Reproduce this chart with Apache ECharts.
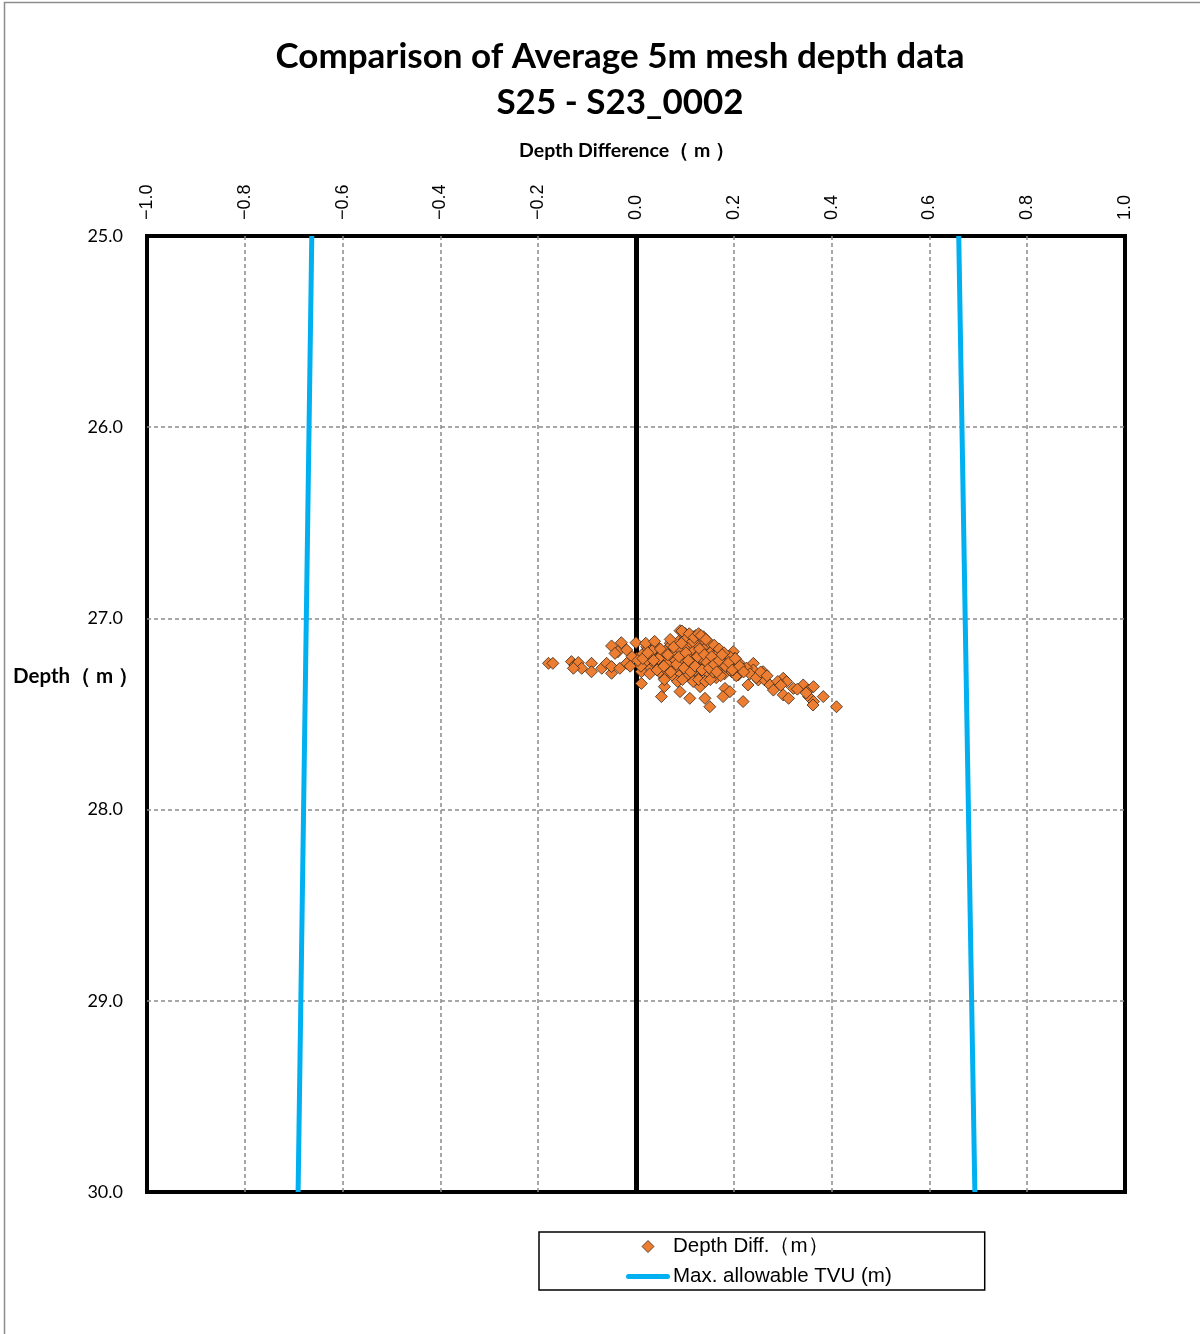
<!DOCTYPE html>
<html>
<head>
<meta charset="utf-8">
<script src="https://cdn.jsdelivr.net/npm/echarts@6/dist/echarts.min.js"></script>
<style>
  html, body { margin: 0; padding: 0; background: #fff; }
  #chart { width: 1200px; height: 1334px; }
</style>
</head>
<body>
<div id="chart"></div>
<script>
// Depth difference (m) between surveys, paired with average depth (m)
const diffX = [
  -0.179, -0.170, -0.132, -0.125, -0.118, -0.111, -0.128, -0.091, -0.091, -0.070,
  -0.060, -0.050, -0.050, -0.050, -0.033, -0.019, -0.030, -0.037, -0.019, -0.043,
  0.000, 0.001, 0.008, 0.011, 0.011, 0.022, 0.029, 0.042, 0.056, 0.058,
  0.058, 0.052, 0.070, 0.073, 0.079, 0.083, 0.090, 0.100, 0.090, 0.097,
  0.100, 0.103, 0.110, 0.117, 0.120, 0.124, 0.131, 0.131, 0.138, 0.141,
  0.144, 0.151, 0.151, 0.155, 0.161, 0.168, 0.175, 0.178, 0.182, 0.178,
  0.192, 0.192, 0.199, 0.202, 0.206, 0.209, 0.219, 0.219, 0.229, 0.240,
  0.240, 0.250, 0.260, 0.263, 0.274, 0.281, 0.301, 0.308, 0.322, 0.301,
  0.312, 0.342, 0.353, 0.363, 0.353, 0.363, 0.362, 0.383, 0.410,
  0.012, 0.018, 0.025, 0.031, 0.035, 0.040, 0.045, 0.048, 0.052, 0.055,
  0.060, 0.062, 0.066, 0.068, 0.072, 0.075, 0.078, 0.081, 0.084, 0.087,
  0.089, 0.092, 0.094, 0.096, 0.099, 0.101, 0.104, 0.106, 0.108, 0.111,
  0.113, 0.115, 0.118, 0.120, 0.122, 0.125, 0.127, 0.129, 0.132, 0.134,
  0.137, 0.139, 0.141, 0.144, 0.146, 0.149, 0.151, 0.154, 0.156, 0.159,
  0.161, 0.164, 0.166, 0.169, 0.172, 0.175, 0.178, 0.181, 0.185, 0.188,
  0.192, 0.196, 0.200, 0.205, 0.210, 0.215, 0.010, 0.020, 0.028, 0.038,
  0.058, 0.070, 0.085, 0.095, 0.105, 0.117, 0.128, 0.142, 0.152, 0.160,
  0.170, 0.180, 0.094, -0.008, -0.012, 0.004, 0.033, 0.046, 0.064, 0.107,
  0.123, 0.135, 0.147, 0.158, 0.173, 0.187, 0.198, 0.226, 0.233, 0.246,
  0.255, 0.268, 0.290, 0.296, 0.330, 0.348,
  0.014, 0.024, 0.036, 0.043, 0.050, 0.057, 0.065, 0.071, 0.077, 0.083,
  0.088, 0.093, 0.098, 0.102, 0.107, 0.112, 0.116, 0.121, 0.126, 0.130,
  0.135, 0.140, 0.145, 0.150, 0.155, 0.160, 0.165, 0.170, 0.176, 0.183,
  0.190, 0.197, 0.203, 0.212, 0.220, 0.109, 0.119, 0.128, 0.133, 0.143
];
const depthY = [
  27.235, 27.235, 27.226, 27.244, 27.231, 27.261, 27.261, 27.235, 27.279, 27.261,
  27.235, 27.287, 27.252, 27.144, 27.261, 27.235, 27.127, 27.174, 27.165, 27.183,
  27.127, 27.209, 27.244, 27.279, 27.340, 27.148, 27.218, 27.174, 27.218, 27.313,
  27.357, 27.409, 27.130, 27.200, 27.279, 27.244, 27.064, 27.078, 27.383, 27.130,
  27.200, 27.296, 27.418, 27.096, 27.165, 27.235, 27.279, 27.357, 27.096, 27.418,
  27.200, 27.462, 27.270, 27.165, 27.218, 27.235, 27.183, 27.279, 27.366, 27.409,
  27.383, 27.244, 27.174, 27.209, 27.261, 27.296, 27.261, 27.435, 27.348, 27.235,
  27.270, 27.322, 27.279, 27.322, 27.348, 27.375, 27.313, 27.331, 27.366, 27.400,
  27.418, 27.348, 27.375, 27.357, 27.409, 27.435, 27.453, 27.409, 27.462,
  27.19, 27.23, 27.16, 27.26, 27.20, 27.24, 27.15, 27.28, 27.19, 27.23,
  27.17, 27.27, 27.21, 27.25, 27.14, 27.30, 27.18, 27.22, 27.26, 27.12,
  27.16, 27.29, 27.20, 27.24, 27.11, 27.27, 27.15, 27.19, 27.23, 27.31,
  27.13, 27.26, 27.17, 27.21, 27.09, 27.28, 27.14, 27.24, 27.18, 27.30,
  27.11, 27.22, 27.26, 27.15, 27.19, 27.29, 27.13, 27.24, 27.17, 27.21,
  27.27, 27.31, 27.19, 27.23, 27.26, 27.21, 27.24, 27.29, 27.22, 27.26,
  27.20, 27.28, 27.24, 27.30, 27.23, 27.27, 27.25, 27.13, 27.29, 27.12,
  27.32, 27.11, 27.33, 27.32, 27.10, 27.33, 27.32, 27.33, 27.32, 27.14,
  27.16, 27.18, 27.066, 27.20, 27.25, 27.22, 27.17, 27.21, 27.24, 27.29,
  27.25, 27.27, 27.23, 27.28, 27.30, 27.24, 27.27, 27.26, 27.29, 27.31,
  27.28, 27.30, 27.33, 27.35, 27.37, 27.39,
  27.21, 27.18, 27.22, 27.27, 27.16, 27.25, 27.19, 27.28, 27.15, 27.24,
  27.20, 27.13, 27.26, 27.18, 27.22, 27.28, 27.12, 27.25, 27.20, 27.16,
  27.27, 27.19, 27.23, 27.26, 27.20, 27.24, 27.28, 27.22, 27.19, 27.25,
  27.23, 27.27, 27.21, 27.25, 27.28, 27.08, 27.10, 27.08, 27.09, 27.11
];

// Maximum allowable TVU envelope (m), given at the top and bottom depths
const tvuDepths = [25.0, 30.0];
const tvuLower = [-0.663, -0.691];
const tvuUpper = [0.660, 0.693];

// Axis ranges and ticks
const xMin = -1.0, xMax = 1.0, xStep = 0.2;
const yMin = 25.0, yMax = 30.0, yStep = 1.0;

const titleLines = ['Comparison of Average 5m mesh depth data', 'S25 - S23_0002'];
const xAxisName = 'Depth Difference\uFF08 m \uFF09';
const yAxisName = 'Depth\uFF08 m \uFF09';
const scatterName = 'Depth Diff.\uFF08m\uFF09';
const tvuName = 'Max. allowable TVU (m)';

const scatterData = diffX.map((x, i) => [x, depthY[i]]);
const lowerData = tvuDepths.map((d, i) => [tvuLower[i], d]);
const upperData = tvuDepths.map((d, i) => [tvuUpper[i], d]);

const fmt = v => {
  const s = Math.abs(v).toFixed(1);
  return v < -1e-9 ? '\u2212' + s : s;
};

const chart = echarts.init(document.getElementById('chart'), null, { renderer: 'canvas' });

const gridDash = { color: '#8a8a8a', width: 1.5, type: [4, 3] };
const tvuStyle = { color: '#00B0F0', width: 5 };
const markerFill = '#ED7D31';
const markerEdge = '#3a2a1a';

chart.setOption({
  animation: false,
  backgroundColor: '#ffffff',
  graphic: [
    { type: 'rect', shape: { x: 4.5, y: 2.5, width: 1210, height: 1350 },
      style: { fill: 'none', stroke: '#8c8c8c', lineWidth: 1.5 }, silent: true },
    { type: 'text', x: 620, y: 57, style: { text: titleLines[0], font: 'bold 35px Lato', fill: '#000', align: 'center', verticalAlign: 'middle' } },
    { type: 'text', x: 620, y: 103, style: { text: titleLines[1], font: 'bold 35px Lato', fill: '#000', align: 'center', verticalAlign: 'middle' } },
    { type: 'text', x: 627, y: 151, style: { text: xAxisName, font: 'bold 19.5px Lato', fill: '#000', align: 'center', verticalAlign: 'middle' } },
    { type: 'text', x: 13, y: 676, style: { text: yAxisName, font: 'bold 20.5px Lato', fill: '#000', align: 'left', verticalAlign: 'middle' } }
  ],
  grid: {
    left: 147, right: 75, top: 236, bottom: 142,
    show: true, borderColor: '#000', borderWidth: 4, backgroundColor: 'transparent'
  },
  legend: {
    orient: 'vertical',
    left: 539, top: 1232,
    padding: [4, 93, 3, 87],
    itemWidth: 44, itemHeight: 12, itemGap: 9,
    borderColor: '#000', borderWidth: 1.5,
    textStyle: { fontFamily: 'Liberation Sans', fontSize: 20.5, color: '#000', lineHeight: 20, padding: [0, 0, 0, -2] },
    data: [
      { name: scatterName, icon: 'path://M6,0 L12,6 L6,12 L0,6 Z',
        itemStyle: { color: markerFill, borderColor: markerEdge, borderWidth: 0.8 } },
      { name: tvuName, icon: 'path://M2.5,0 L41.5,0 A2.5,2.5 0 0 1 41.5,5 L2.5,5 A2.5,2.5 0 0 1 2.5,0 Z',
        itemStyle: { color: '#00B0F0', borderWidth: 0 } }
    ]
  },
  xAxis: {
    type: 'value', position: 'top',
    min: xMin, max: xMax, interval: xStep,
    axisLine: { show: false },
    axisTick: { show: false },
    axisLabel: {
      rotate: -90, margin: 16, fontFamily: 'Liberation Sans', fontSize: 18, color: '#000',
      formatter: fmt
    },
    splitLine: { show: true, showMinLine: false, showMaxLine: false, lineStyle: gridDash }
  },
  yAxis: {
    type: 'value', inverse: true,
    min: yMin, max: yMax, interval: yStep,
    axisLine: { show: false },
    axisTick: { show: false },
    axisLabel: {
      margin: 24, fontFamily: 'Lato', fontSize: 18, color: '#000',
      formatter: v => v.toFixed(1)
    },
    splitLine: { show: true, showMinLine: false, showMaxLine: false, lineStyle: gridDash }
  },
  series: [
    {
      name: tvuName, type: 'line', data: lowerData,
      symbol: 'none', lineStyle: tvuStyle, itemStyle: { color: '#00B0F0' }, z: 3,
      markLine: {
        silent: true, symbol: 'none', label: { show: false },
        lineStyle: { color: '#000', width: 5, type: 'solid' },
        data: [{ xAxis: 0 }]
      }
    },
    {
      name: tvuName, type: 'line', data: upperData,
      symbol: 'none', lineStyle: tvuStyle, itemStyle: { color: '#00B0F0' }, z: 3
    },
    {
      name: scatterName, type: 'scatter', data: scatterData,
      symbol: 'diamond', symbolSize: 12,
      itemStyle: { color: markerFill, borderColor: markerEdge, borderWidth: 0.8, opacity: 1 },
      z: 5
    }
  ]
});
</script>
</body>
</html>
